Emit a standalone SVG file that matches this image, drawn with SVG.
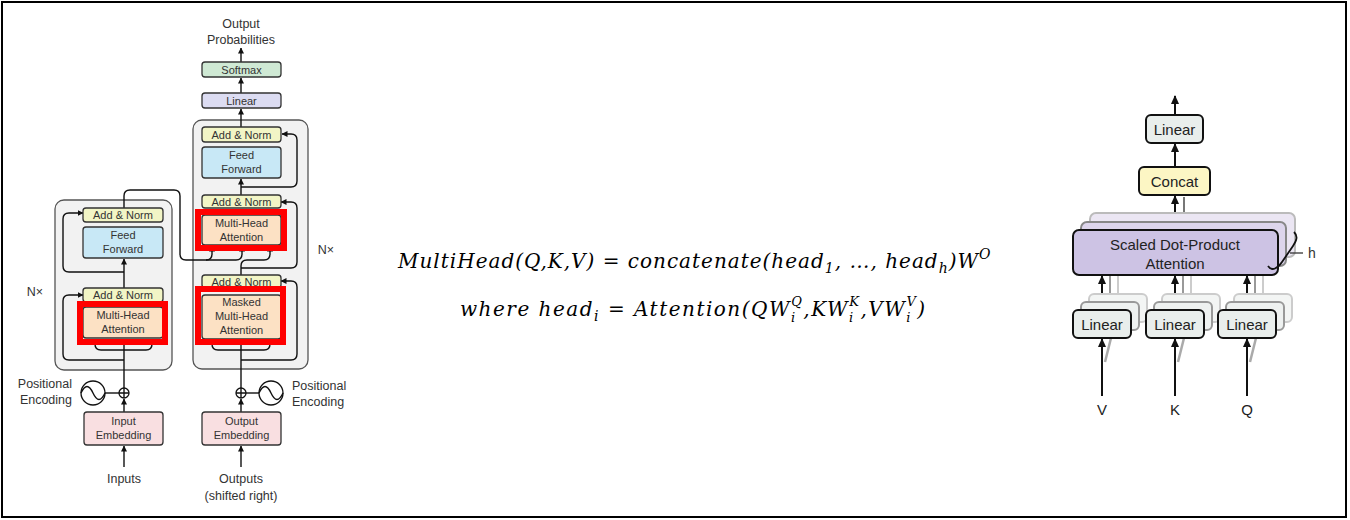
<svg xmlns="http://www.w3.org/2000/svg" width="1350" height="520" viewBox="0 0 1350 520">
<style>
.bg{fill:#f2f2f2;stroke:#555;stroke-width:1.3}
.bx{stroke:#333;stroke-width:1.3}
.an{fill:#f2f5c6}.ff{fill:#c8e8f6}.mh{fill:#fce1c4}.em{fill:#f9dfe1}.ln{fill:#dcdcf2}.sm{fill:#cfe9d4}
.t{font-family:"Liberation Sans",Arial,sans-serif;font-size:11px;fill:#333;text-anchor:middle}
.t2{font-family:"Liberation Sans",Arial,sans-serif;font-size:12.5px;fill:#333}
.w{fill:none;stroke:#111;stroke-width:1.4}
.wa{fill:none;stroke:#111;stroke-width:1.4;marker-end:url(#a)}
.red{fill:none;stroke:#ff0000;stroke-width:6}
.math{font-family:"DejaVu Serif",serif;font-style:italic;font-size:20px;fill:#000}
.rb{stroke:#111;stroke-width:2}
.rt{font-family:"Liberation Sans",Arial,sans-serif;font-size:15px;fill:#222;text-anchor:middle}
.ra{fill:none;stroke:#111;stroke-width:2;marker-end:url(#b)}
</style>
<defs>
<marker id="a" markerUnits="userSpaceOnUse" markerWidth="6" markerHeight="6" refX="5.5" refY="3" orient="auto"><path d="M0,0 L6,3 L0,6 z" fill="#111"/></marker>
<marker id="b" markerUnits="userSpaceOnUse" markerWidth="9" markerHeight="8" refX="8" refY="4" orient="auto"><path d="M0,0 L9,4 L0,8 z" fill="#111"/></marker>
<filter id="soft" x="-10%" y="-10%" width="120%" height="120%"><feGaussianBlur stdDeviation="0.7"/></filter>
</defs>
<rect x="2" y="2" width="1344" height="515" fill="#fff" stroke="#000" stroke-width="2"/>

<g id="encoder-stack"><rect class="bg" x="55" y="200" width="117" height="170" rx="9"/></g>
<g id="decoder-stack"><rect class="bg" x="193" y="120" width="115" height="249" rx="9"/></g>

<g id="connectors">
<path class="wa" d="M124,467 V446"/>
<path class="wa" d="M124,412 V399"/>
<path class="w" d="M124,388 V339"/>
<path class="w" d="M95,339 V344 Q95,350 101,350 H146 Q152,350 152,344 V339"/>
<path class="wa" d="M124,360 H69 Q63,360 63,354 V301 Q63,295 69,295 H83"/>
<path class="wa" d="M124,288 V259"/>
<path class="wa" d="M124,272 H69 Q63,272 63,266 V219 Q63,213 69,213 H83"/>
<path class="w" d="M105,393 H119"/>
<path class="wa" d="M124,208 V196 Q124,190 130,190 H174 Q180,190 180,196 V254 Q180,260 186,260 H236 Q242,260 242,254 V246"/>
<path class="wa" d="M206,260 Q212,260 212,254 V246"/>
<path class="wa" d="M241,467 V446"/>
<path class="wa" d="M241,412 V399"/>
<path class="w" d="M241,388 V340"/>
<path class="w" d="M212,340 V344 Q212,350 218,350 H264 Q270,350 270,344 V340"/>
<path class="wa" d="M241,360 H291 Q297,360 297,354 V287 Q297,281 291,281 H281"/>
<path class="wa" d="M241,275 V266 Q241,260 247,260 H264 Q270,260 270,254 V246"/>
<path class="wa" d="M241,268 H291 Q297,268 297,262 V208 Q297,202 291,202 H281"/>
<path class="wa" d="M241,195 V179"/>
<path class="wa" d="M241,187 H291 Q297,187 297,181 V140 Q297,134 291,134 H282"/>
<path class="wa" d="M241,127 V109"/>
<path class="wa" d="M241,93 V78"/>
<path class="wa" d="M241,62 V48"/>
<path class="w" d="M246,393 H259"/>
<path class="ra" d="M1175,115 V96"/>
<path class="ra" d="M1175,167 V144"/>
<path fill="none" stroke="#bbb" stroke-width="2" d="M1192,213 V197" filter="url(#soft)"/>
<path fill="none" stroke="#777" stroke-width="2" d="M1184,222 V197"/>
<path d="M1188,196 l-4,-1 l4,-7 l4,7 z" fill="#777"/>
<path d="M1196,196 l-4,-1 l4,-7 l4,7 z" fill="#bbb"/>
<path class="ra" d="M1175,230 V196"/>
<g filter="url(#soft)">
<path fill="none" stroke="#ccc" stroke-width="2" d="M1118,294 V262 M1191,294 V262 M1263,294 V262"/>
<path fill="none" stroke="#999" stroke-width="2" d="M1110,302 V270 M1183,302 V270 M1255,302 V270"/>
<path fill="none" stroke="#aaa" stroke-width="2.5" d="M1105,362 L1111,338 M1178,362 L1184,338 M1250,362 L1256,338"/>
</g>
<path class="ra" d="M1102,310 V276"/>
<path class="ra" d="M1175,310 V276"/>
<path class="ra" d="M1247,310 V276"/>
<path class="ra" d="M1102,396 V339"/>
<path class="ra" d="M1175,396 V339"/>
<path class="ra" d="M1247,396 V339"/>
</g>

<g id="input-embedding"><rect class="bx em" x="84" y="412" width="79" height="33" rx="3"/><text class="t" x="123.5" y="425">Input</text><text class="t" x="123.5" y="439">Embedding</text></g>
<g id="enc-pos-encoding"><circle cx="124" cy="393" r="5" fill="#fff" stroke="#111" stroke-width="1.3"/><path class="w" d="M119,393 H129 M124,388 V398" stroke-width="1.1"/><circle cx="93" cy="393" r="12" fill="#fff" stroke="#111" stroke-width="1.3"/><path class="w" stroke-width="1.2" d="M81,393 Q87,380 93,393 Q99,406 105,393"/><text class="t2" x="72" y="388" text-anchor="end">Positional</text><text class="t2" x="72" y="404" text-anchor="end">Encoding</text></g>
<g id="enc-mha"><rect class="bx mh" x="83" y="307" width="80" height="31" rx="3"/><text class="t" x="123" y="319">Multi-Head</text><text class="t" x="123" y="333">Attention</text></g>
<g id="enc-addnorm1"><rect class="bx an" x="83" y="288" width="80" height="14" rx="3"/><text class="t" x="123" y="299">Add &amp; Norm</text></g>
<g id="enc-ff"><rect class="bx ff" x="83" y="227" width="80" height="31" rx="3"/><text class="t" x="123" y="239">Feed</text><text class="t" x="123" y="253">Forward</text></g>
<g id="enc-addnorm2"><rect class="bx an" x="83" y="208" width="80" height="14" rx="3"/><text class="t" x="123" y="219">Add &amp; Norm</text></g>
<g id="enc-nx"><text class="t2" x="35" y="296" text-anchor="middle">N×</text></g>

<g id="output-embedding"><rect class="bx em" x="202" y="412" width="79" height="33" rx="3"/><text class="t" x="241.5" y="425">Output</text><text class="t" x="241.5" y="439">Embedding</text></g>
<g id="dec-pos-encoding"><circle cx="241" cy="393" r="5" fill="#fff" stroke="#111" stroke-width="1.3"/><path class="w" d="M236,393 H246 M241,388 V398" stroke-width="1.1"/><circle cx="271" cy="393" r="12" fill="#fff" stroke="#111" stroke-width="1.3"/><path class="w" stroke-width="1.2" d="M259,393 Q265,380 271,393 Q277,406 283,393"/><text class="t2" x="292" y="390">Positional</text><text class="t2" x="292" y="406">Encoding</text></g>
<g id="dec-masked-mha"><rect class="bx mh" x="202" y="295" width="79" height="44" rx="3"/><text class="t" x="241.5" y="306">Masked</text><text class="t" x="241.5" y="320">Multi-Head</text><text class="t" x="241.5" y="334">Attention</text></g>
<g id="dec-addnorm1"><rect class="bx an" x="202" y="275" width="79" height="13" rx="3"/><text class="t" x="241.5" y="286">Add &amp; Norm</text></g>
<g id="dec-mha"><rect class="bx mh" x="202" y="215" width="79" height="30" rx="3"/><text class="t" x="241.5" y="227">Multi-Head</text><text class="t" x="241.5" y="241">Attention</text></g>
<g id="dec-addnorm2"><rect class="bx an" x="202" y="195" width="79" height="13" rx="3"/><text class="t" x="241.5" y="206">Add &amp; Norm</text></g>
<g id="dec-ff"><rect class="bx ff" x="202" y="147" width="79" height="31" rx="3"/><text class="t" x="241.5" y="159">Feed</text><text class="t" x="241.5" y="173">Forward</text></g>
<g id="dec-addnorm3"><rect class="bx an" x="202" y="127" width="79" height="15" rx="3"/><text class="t" x="241.5" y="138.5">Add &amp; Norm</text></g>
<g id="dec-linear"><rect class="bx ln" x="202" y="93" width="79" height="15" rx="3"/><text class="t" x="241.5" y="104.5">Linear</text></g>
<g id="dec-softmax"><rect class="bx sm" x="202" y="62" width="79" height="15" rx="3"/><text class="t" x="241.5" y="73.5">Softmax</text></g>
<g id="dec-nx"><text class="t2" x="326" y="254" text-anchor="middle">N×</text></g>
<g id="output-probs"><text class="t2" x="241" y="28" text-anchor="middle">Output</text><text class="t2" x="241" y="44" text-anchor="middle">Probabilities</text></g>
<g id="inputs-label"><text class="t2" x="124" y="483" text-anchor="middle">Inputs</text></g>
<g id="outputs-label"><text class="t2" x="241" y="483" text-anchor="middle">Outputs</text><text class="t2" x="241" y="500" text-anchor="middle">(shifted right)</text></g>

<g id="highlights">
<rect class="red" x="80" y="304" width="85" height="38"/>
<rect class="red" x="198" y="212" width="86" height="36"/>
<rect class="red" x="198" y="289" width="85" height="53"/>
</g>

<g id="formula">
<text class="math" x="398" y="268" letter-spacing="1">MultiHead(Q,K,V) = concatenate(head<tspan dy="5" font-size="14">1</tspan><tspan dy="-5">, …, head</tspan><tspan dy="5" font-size="14">h</tspan><tspan dy="-5">)W</tspan><tspan dy="-9" font-size="14">O</tspan></text>
<text class="math" x="460" y="316" letter-spacing="1.5">where head<tspan dy="5" font-size="14">i</tspan><tspan dy="-5"> = Attention(QW</tspan><tspan dy="6" font-size="13">i</tspan><tspan dx="-5.5" dy="-16" font-size="13">Q</tspan><tspan dy="10">,KW</tspan><tspan dy="6" font-size="13">i</tspan><tspan dx="-5.5" dy="-16" font-size="13">K</tspan><tspan dy="10">,VW</tspan><tspan dy="6" font-size="13">i</tspan><tspan dx="-5.5" dy="-16" font-size="13">V</tspan><tspan dy="10">)</tspan></text>
</g>

<g id="mh-linear-out"><rect class="rb" x="1146" y="115" width="57" height="28" rx="5" fill="#e9eeec"/><text class="rt" x="1174.5" y="134.5">Linear</text></g>
<g id="mh-concat"><rect class="rb" x="1139" y="167" width="71" height="28" rx="5" fill="#fcf6c4"/><text class="rt" x="1174.5" y="186.5">Concat</text></g>
<g id="mh-sdpa">
<rect x="1090" y="213" width="205" height="44" rx="6" fill="#ebe6f3" stroke="#bbb" stroke-width="2" filter="url(#soft)"/>
<rect x="1081" y="222" width="205" height="44" rx="6" fill="#ddd5ec" stroke="#888" stroke-width="2" filter="url(#soft)"/>
<rect class="rb" x="1073" y="230" width="205" height="45" rx="6" fill="#cdc3e4"/>
<text class="rt" x="1175" y="250">Scaled Dot-Product</text><text class="rt" x="1175" y="269">Attention</text>
<path fill="none" stroke="#111" stroke-width="1.8" d="M1268,266 C1272,272 1278,268 1282,262 L1293,246 C1297,240 1298,236 1294,232"/>
<path fill="none" stroke="#333" stroke-width="1.3" d="M1290,253 H1303"/>
<text x="1308" y="258" font-family="Liberation Sans,Arial,sans-serif" font-size="14" fill="#333">h</text>
</g>
<g id="mh-linear-v"><rect x="1089" y="294" width="58" height="28" rx="5" fill="#f3f5f4" stroke="#ccc" stroke-width="2" filter="url(#soft)"/><rect x="1081" y="302" width="58" height="28" rx="5" fill="#eef1f0" stroke="#999" stroke-width="2" filter="url(#soft)"/><rect class="rb" x="1073" y="310" width="58" height="28" rx="5" fill="#e9eeec"/><text class="rt" x="1102" y="329.5">Linear</text></g>
<g id="mh-linear-k"><rect x="1162" y="294" width="58" height="28" rx="5" fill="#f3f5f4" stroke="#ccc" stroke-width="2" filter="url(#soft)"/><rect x="1154" y="302" width="58" height="28" rx="5" fill="#eef1f0" stroke="#999" stroke-width="2" filter="url(#soft)"/><rect class="rb" x="1146" y="310" width="58" height="28" rx="5" fill="#e9eeec"/><text class="rt" x="1175" y="329.5">Linear</text></g>
<g id="mh-linear-q"><rect x="1234" y="294" width="58" height="28" rx="5" fill="#f3f5f4" stroke="#ccc" stroke-width="2" filter="url(#soft)"/><rect x="1226" y="302" width="58" height="28" rx="5" fill="#eef1f0" stroke="#999" stroke-width="2" filter="url(#soft)"/><rect class="rb" x="1218" y="310" width="58" height="28" rx="5" fill="#e9eeec"/><text class="rt" x="1247" y="329.5">Linear</text></g>
<g id="mh-inputs">
<text class="rt" x="1102" y="415" font-size="17">V</text>
<text class="rt" x="1175" y="415" font-size="17">K</text>
<text class="rt" x="1247" y="415" font-size="17">Q</text>
</g>
</svg>
